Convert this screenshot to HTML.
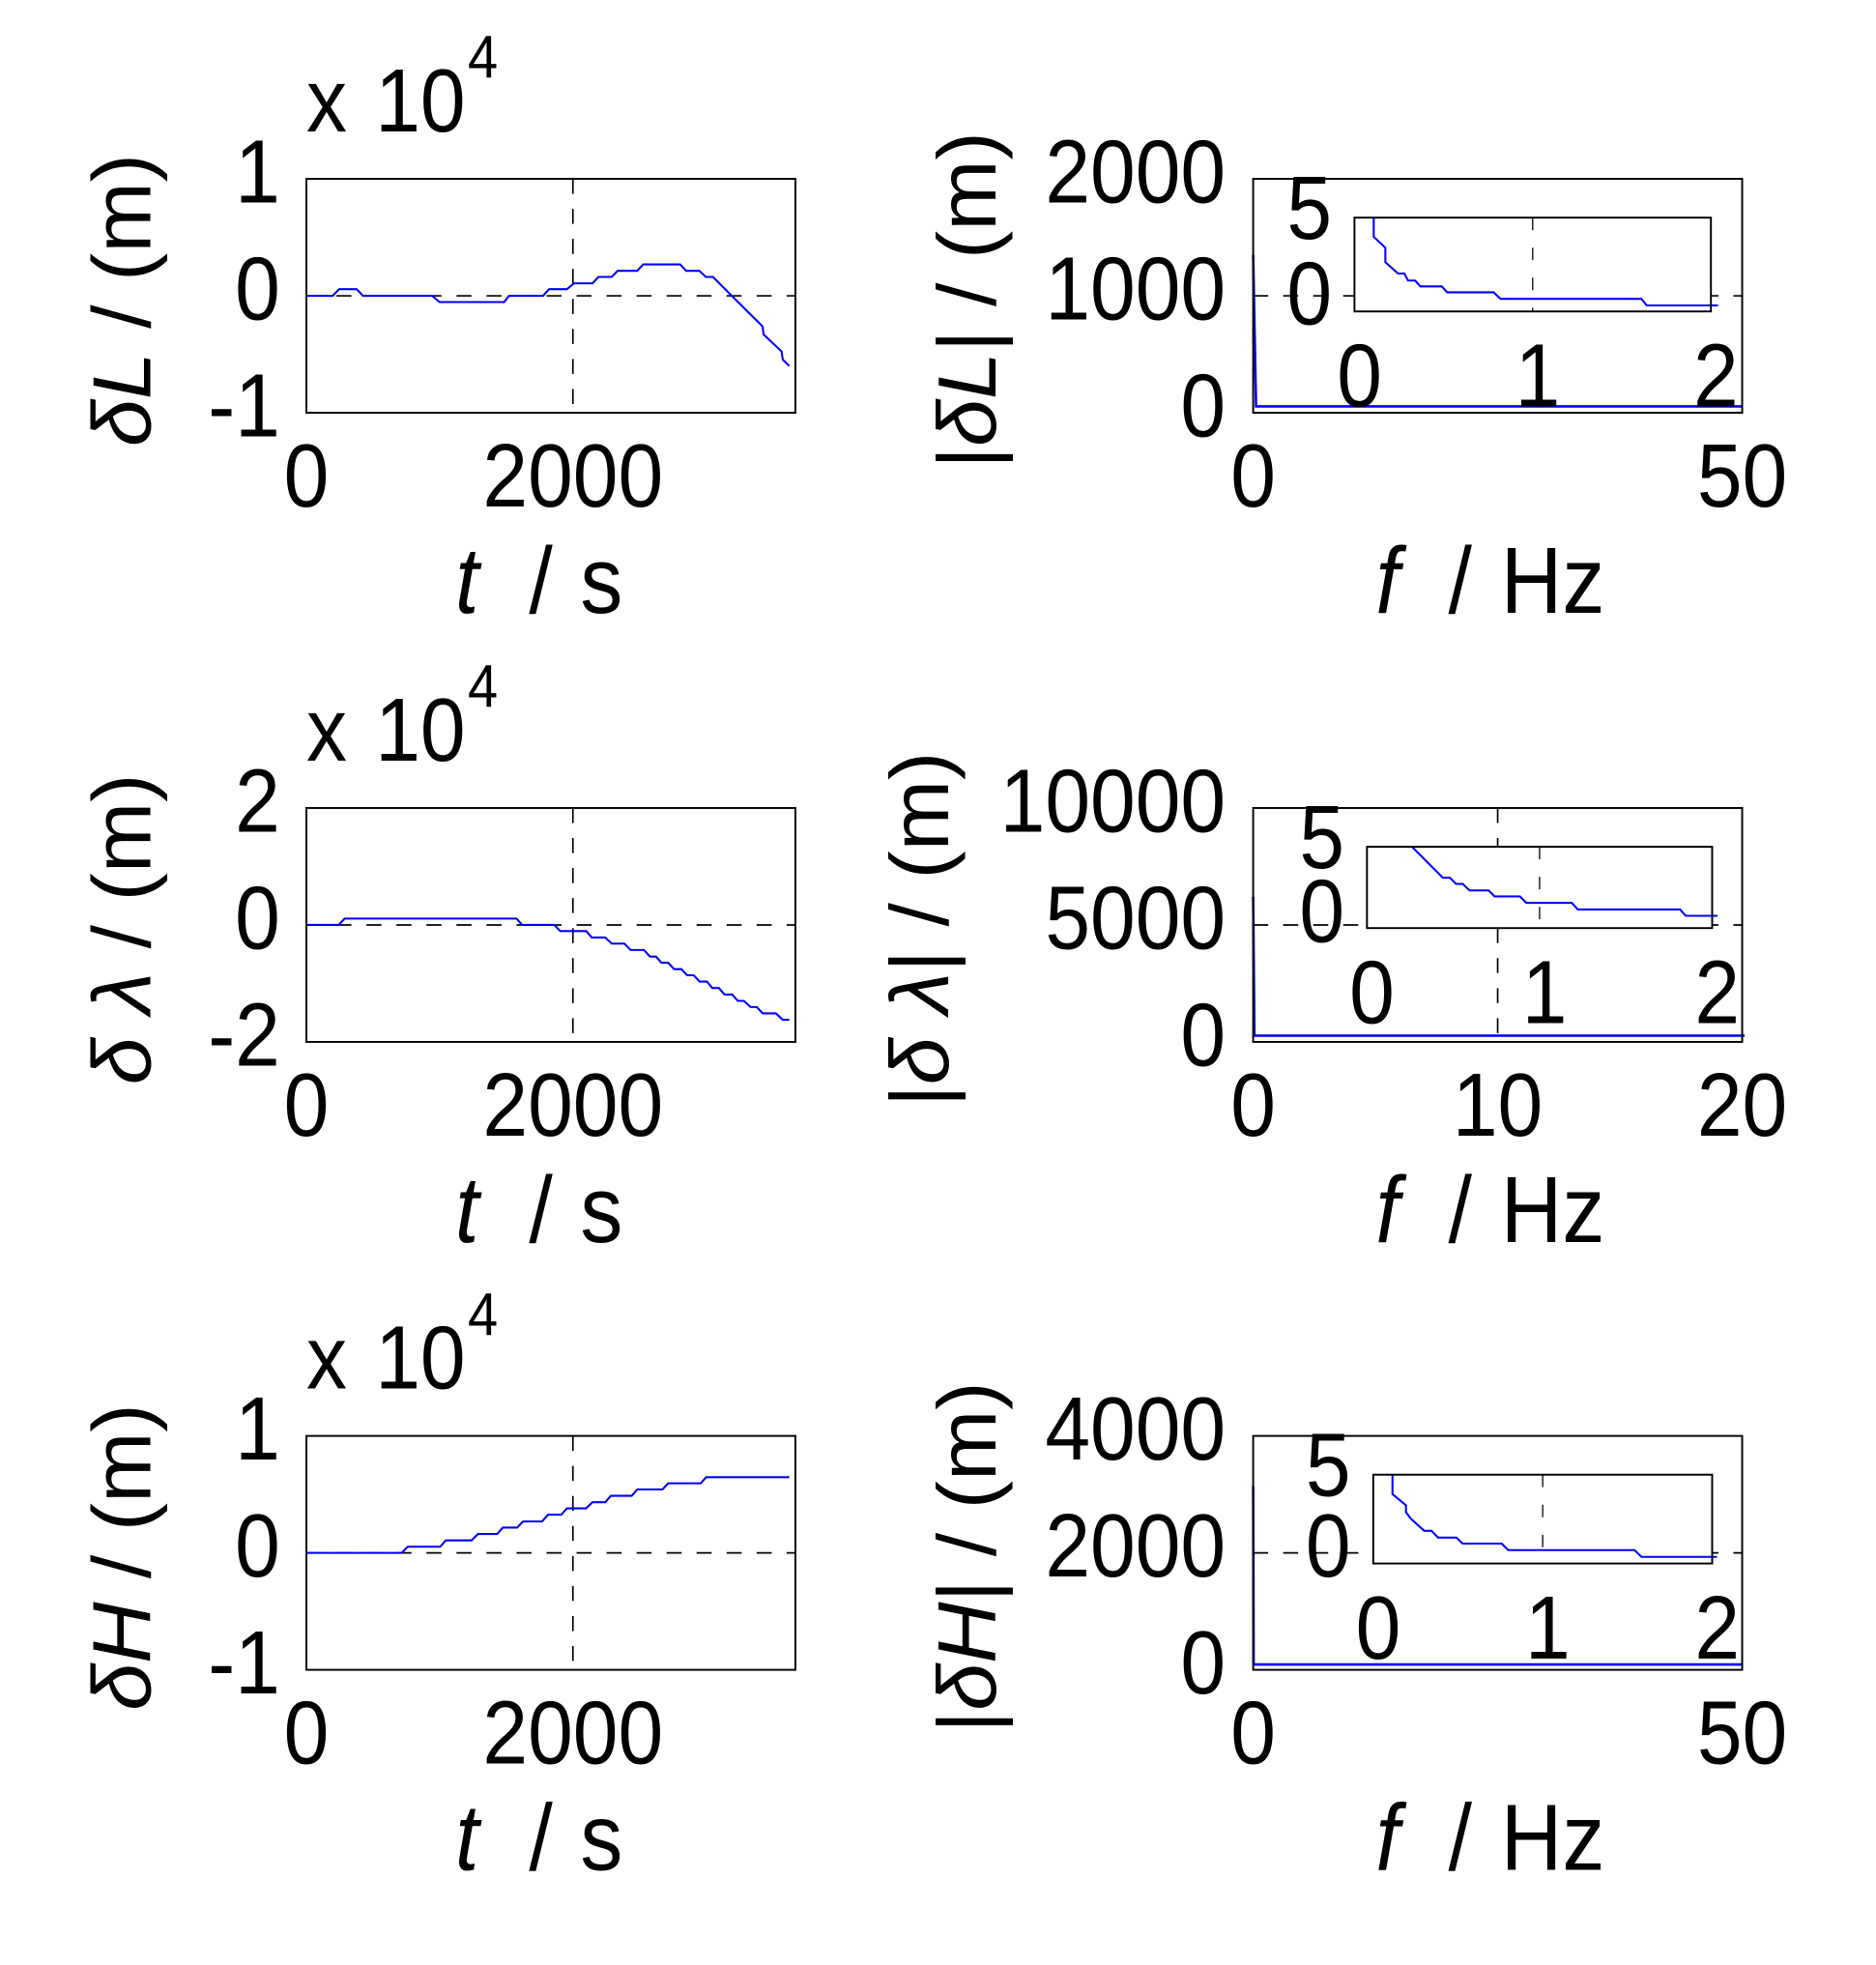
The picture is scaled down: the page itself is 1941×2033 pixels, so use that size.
<!DOCTYPE html>
<html><head><meta charset="utf-8"><title>Error plots</title>
<style>html,body{margin:0;padding:0;background:#fff}svg{display:block}</style></head>
<body>
<svg id="fig" xmlns="http://www.w3.org/2000/svg" width="1941" height="2033" viewBox="0 0 1500 1571" preserveAspectRatio="none" font-family="'Liberation Sans', 'DejaVu Sans', sans-serif">
<rect width="1500" height="1571" fill="#fff"/>
</svg>
<script>
// ---- data ----
const dLt = [0,197,246,376,425,944,998,1485,1521,1776,1821,1955,2009,2148,2192,2291,2336,2483,2528,2805,2850,2948,2998,3051,3186,3423,3432,3566,3575,3624];
const dLv = [0,0,0.057,0.057,0,0,-0.054,-0.054,0,0,0.057,0.057,0.107,0.107,0.161,0.161,0.214,0.214,0.268,0.268,0.214,0.214,0.161,0.161,0.007,-0.261,-0.332,-0.475,-0.546,-0.6];
const dLamt = [0,242,286,1577,1619,1860,1905,2100,2142,2242,2291,2386,2433,2533,2578,2623,2665,2715,2760,2814,2857,2907,2951,3006,3046,3096,3138,3195,3238,3283,3333,3380,3425,3524,3574,3624];
const dLamv = [0,0,0.11,0.11,0,0,-0.104,-0.104,-0.214,-0.214,-0.318,-0.318,-0.427,-0.427,-0.542,-0.542,-0.647,-0.647,-0.756,-0.756,-0.86,-0.86,-0.97,-0.97,-1.079,-1.079,-1.189,-1.189,-1.299,-1.299,-1.403,-1.403,-1.512,-1.512,-1.622,-1.622];
const dHt = [0,715,760,1004,1046,1240,1288,1432,1474,1582,1626,1768,1813,1913,1955,2100,2147,2242,2286,2441,2483,2672,2715,2959,3001,3624];
const dHv = [0,0,0.052,0.052,0.107,0.107,0.162,0.162,0.216,0.216,0.268,0.268,0.326,0.326,0.381,0.381,0.433,0.433,0.488,0.488,0.542,0.542,0.595,0.595,0.647,0.647];
const specLf = [0,0.3,50];
const specLv = [1350,55,55];
const specLamf = [0,0.05,20.1];
const specLamv = [6200,270,270];
const specHf = [0,0.05,50];
const specHv = [3140,93,93];
const inLf = [0.108,0.108,0.173,0.173,0.245,0.28,0.30,0.34,0.37,0.49,0.52,0.78,0.82,1.61,1.64,2.04];
const inLv = [5.0,3.88,3.23,2.39,1.72,1.72,1.31,1.31,0.97,0.97,0.62,0.62,0.24,0.24,-0.15,-0.15];
const inLamf = [0.261,0.439,0.48,0.516,0.555,0.594,0.706,0.739,0.886,0.923,1.186,1.222,1.814,1.847,2.031];
const inLamv = [5.0,2.91,2.91,2.49,2.49,2.05,2.05,1.64,1.64,1.21,1.21,0.76,0.76,0.33,0.33];
const inHf = [0.114,0.114,0.193,0.193,0.222,0.301,0.344,0.383,0.491,0.527,0.758,0.796,1.542,1.583,2.029];
const inHv = [5.0,3.8,3.1,2.67,2.27,1.52,1.52,1.1,1.1,0.73,0.73,0.33,0.33,-0.09,-0.09];
const tTicks = ['0','2000'];
const tTickVals = [0,2000];

const NS='http://www.w3.org/2000/svg';
const svg=document.getElementById('fig');
function el(tag,attrs,parent){const e=document.createElementNS(NS,tag);for(const k in attrs)e.setAttribute(k,attrs[k]);(parent||svg).appendChild(e);return e;}
function txt(s,x,y,size,anchor,parent,italic){
  const g=el('g',{transform:`translate(${x},${y}) scale(1.03,1.14)`},parent);
  const t=el('text',{x:0,y:0,'font-size':size,'text-anchor':anchor||'middle',fill:'#000'},g);
  if(italic)t.setAttribute('font-style','italic');
  t.textContent=s;return t;
}
function axes(name,bx,by,bw,bh,xlim,ylim,xt,xtl,yt,ytl,xs,ys,fs,opts){
  const g=el('g',{});
  
  
  const X=v=>bx+(v-xlim[0])/(xlim[1]-xlim[0])*bw;
  const Y=v=>by+bh-(v-ylim[0])/(ylim[1]-ylim[0])*bh;
  const bg=el('rect',{x:bx,y:by,width:bw,height:bh,fill:'#fff',stroke:'none'},g);
  
  
  const dash=opts.dash||'12,12';
  xt.forEach(v=>{if(v>xlim[0]&&v<xlim[1]){const l=el('line',{x1:X(v),x2:X(v),y1:by,y2:by+bh,stroke:'#000','stroke-width':opts.gw||1.3,'stroke-dasharray':dash},g);
    
    }});
  if(!opts.noYGrid) yt.forEach(v=>{if(v>ylim[0]&&v<ylim[1]){const l=el('line',{x1:bx,x2:bx+bw,y1:Y(v),y2:Y(v),stroke:'#000','stroke-width':opts.gw||1.3,'stroke-dasharray':dash},g);
    
    }});
  const pts=xs.map((v,i)=>X(v).toFixed(1)+','+Y(ys[i]).toFixed(1)).join(' ');
  const pl=el('polyline',{points:pts,fill:'none',stroke:'#0000ff','stroke-width':opts.lw||1.6},g);
  
  
  const r=el('rect',{x:bx,y:by,width:bw,height:bh,fill:'none',stroke:'#000','stroke-width':opts.bw||1.5},g);
  
  
  xt.forEach((v,i)=>{const t=txt(xtl[i],X(v)+(opts.xdx||0),opts.xty,fs,'middle',g);
    
    });
  yt.forEach((v,i)=>{const t=txt(ytl[i],opts.ytx,Y(v)+fs*0.3+(opts.ydy?opts.ydy[i]:0),fs,'end',g);
    
    });
  return g;
}
function ylabelRot(parts,cx,cy,name){
  const g=el('g',{transform:`translate(${cx},${cy}) rotate(-90) scale(1.03,1.0)`});
  
  
  const t=el('text',{x:0,y:0,'font-size':66,'text-anchor':'middle',fill:'#000'},g);
  parts.forEach(p=>{const s=el('tspan',{},t);if(p[1])s.setAttribute('font-style','italic');s.textContent=p[0];});
}
function xlabel(parts,y,name){
  const g=el('g',{});
  
  
  parts.forEach(p=>txt(p[0],p[1],y,66,'start',g,p[2]));
}
const rows=[143,646,1148];
const FS=63;
// left panels
const left=[[dLt,dLv,[-1,1],[-1,0,1],['-1','0','1'],'delta-l-time-plot',[['δ',1],['L',1],[' / (m)',0]]],
            [dLamt,dLamv,[-2,2],[-2,0,2],['-2','0','2'],'delta-lambda-time-plot',[['δ',1],[' λ',1],[' / (m)',0]]],
            [dHt,dHv,[-1,1],[-1,0,1],['-1','0','1'],'delta-h-time-plot',[['δ',1],['H',1],[' / (m)',0]]]];
left.forEach((p,i)=>{
  const by=rows[i];
  axes(p[5],245,by,391,187,[0,3670],p[2],tTickVals,tTicks,p[3],p[4],p[0],p[1],FS,{xty:by+262,ytx:224});
  const m=el('g',{});
  
  
  txt('x',245,by-38,FS,'start',m);
  txt('10',300,by-38,FS,'start',m);
  txt('4',374,by-81,42,'start',m);
  ylabelRot(p[6],120,by+97,'y-axis-title');
  xlabel([['t',364,true],['/',423,false],['s',464,false]],by+347,'x-axis-title');
});
// right panels
const right=[[specLf,specLv,[0,50],[0,50],['0','50'],[0,2000],[0,1000,2000],['0','1000','2000'],'delta-l-spectrum-plot',[['|',0],['δ',1],['L',1],['| / (m)',0]],796,
              inLf,inLv,[1083,174,285,75]],
             [specLamf,specLamv,[0,20],[0,10,20],['0','10','20'],[0,10000],[0,5000,10000],['0','5000','10000'],'delta-lambda-spectrum-plot',[['|',0],['δ',1],[' λ',1],['| / (m)',0]],758,
              inLamf,inLamv,[1093,677,276,65]],
             [specHf,specHv,[0,50],[0,50],['0','50'],[0,4000],[0,2000,4000],['0','2000','4000'],'delta-h-spectrum-plot',[['|',0],['δ',1],['H',1],['| / (m)',0]],796,
              inHf,inHv,[1098,1179,271,71]]];
right.forEach((p,i)=>{
  const by=rows[i];
  axes(p[8],1002,by,391,187,p[2],p[5],p[3],p[4],p[6],p[7],p[0],p[1],FS,{xty:by+262,ytx:980,lw:2});
  ylabelRot(p[9],p[10],by+97,'y-axis-title');
  xlabel([['f',1100,true],['/',1158,false],['Hz',1200,false]],by+347,'x-axis-title');
  const b=p[13];
  axes(p[8]+'-inset',b[0],b[1],b[2],b[3],[0,2],[-0.5,5],[0,1,2],['0','1','2'],[0,5],['0','5'],p[11],p[12],FS,
       {xty:b[1]+b[3]+76,ytx:b[0]-18,lw:1.6,gw:1,dash:'10,14',xdx:4,ydy:[-2,-2],noYGrid:true});
});
</script>
</body></html>
